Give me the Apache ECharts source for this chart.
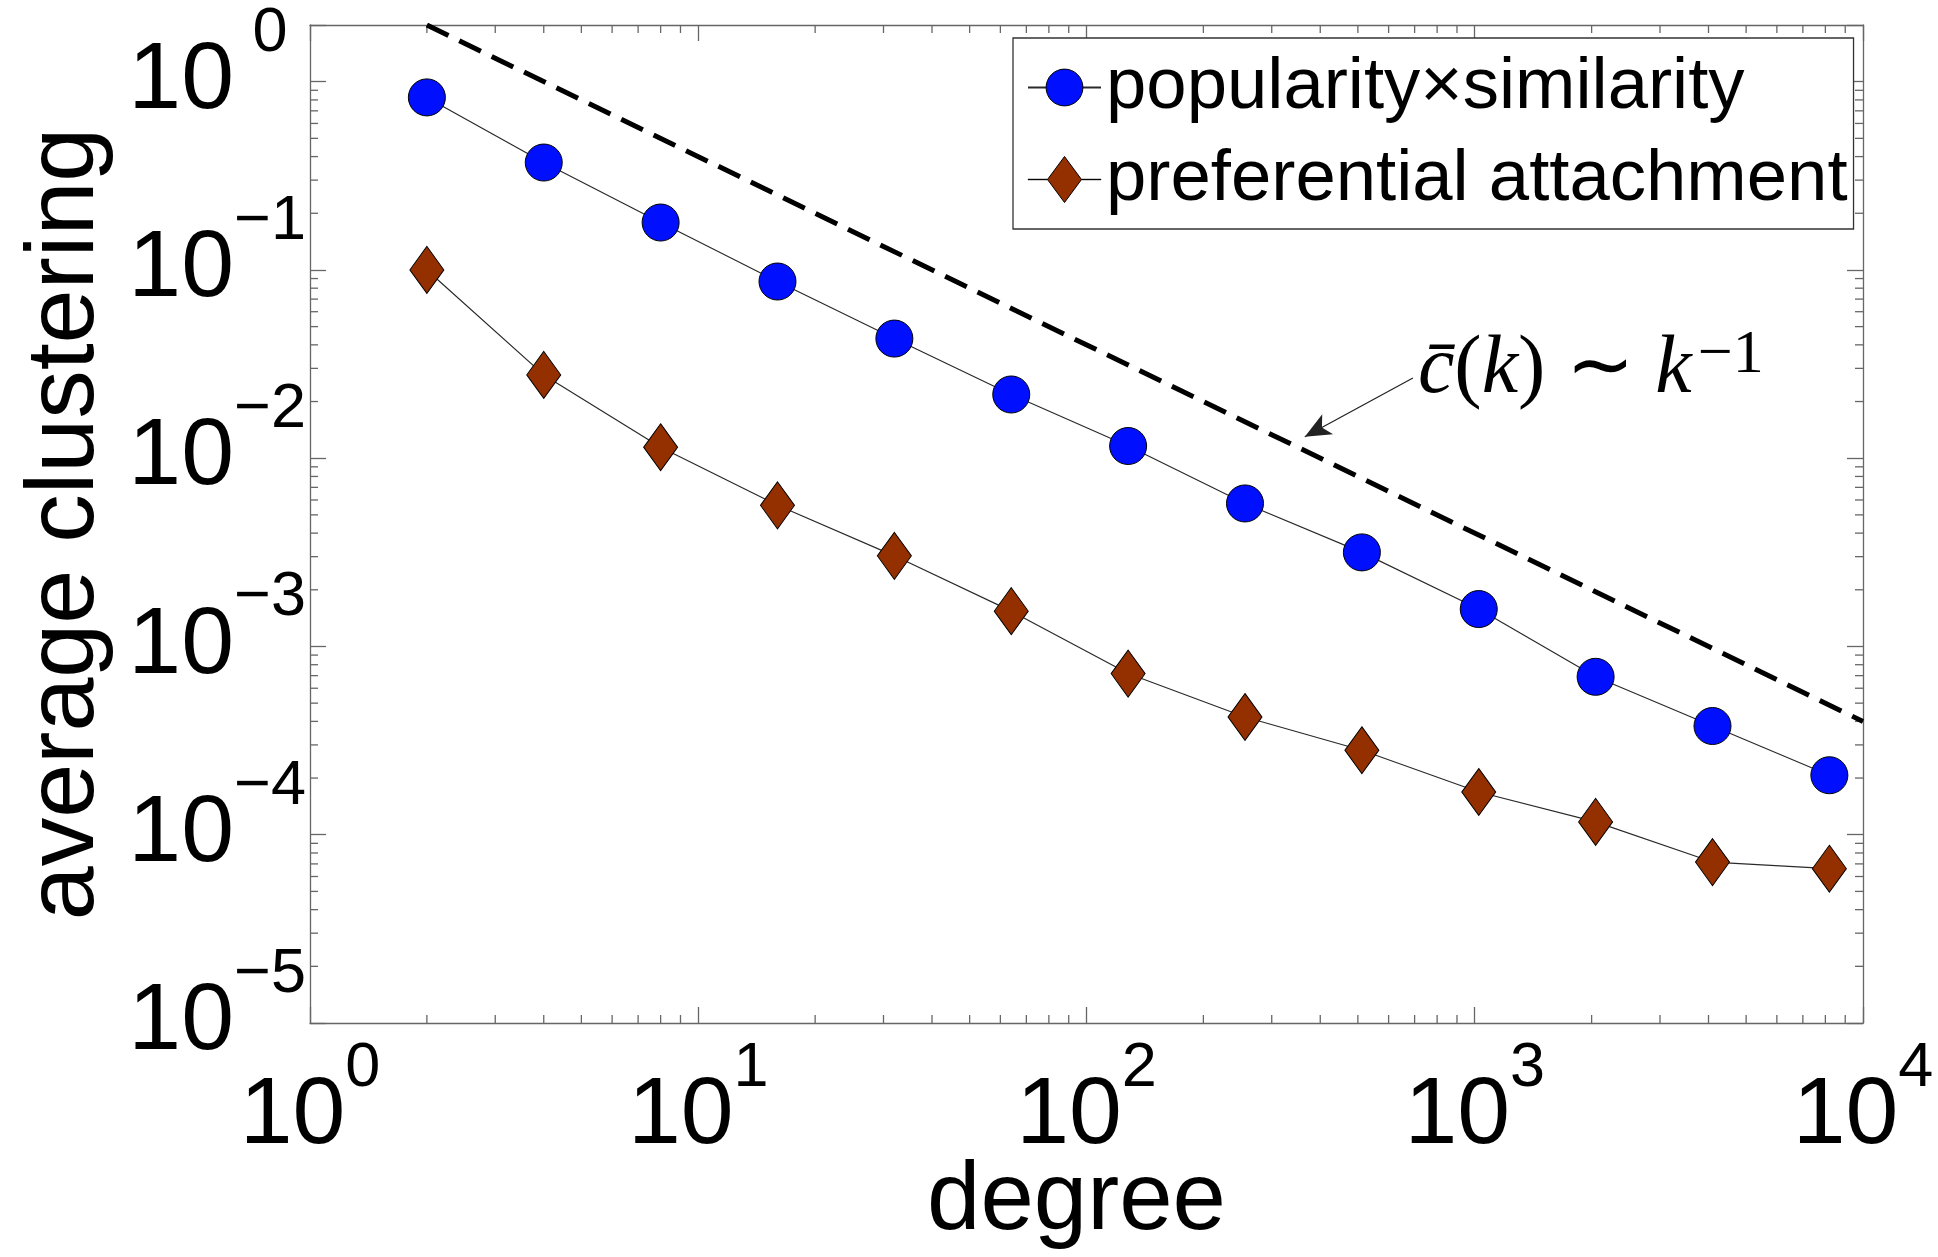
<!DOCTYPE html>
<html>
<head>
<meta charset="utf-8">
<script src="https://cdn.jsdelivr.net/npm/echarts@6/dist/echarts.min.js"></script>
<style>
  html, body { margin: 0; padding: 0; background: #fff; }
  #chart { width: 1938px; height: 1257px; }
</style>
</head>
<body>
<div id="chart"></div>
<script>
// Degree bins (powers of two) and the average clustering measured in each bin
const degree = [2, 4, 8, 16, 32, 64, 128, 256, 512, 1024, 2048, 4096, 8192];
const popularitySimilarity = [0.825, 0.372, 0.1786, 0.0868, 0.0432, 0.0218, 0.01161,
  0.00575, 0.00316, 0.00158, 0.00069, 0.000378, 0.000207];
const preferentialAttachment = [0.100, 0.0277, 0.01143, 0.00562, 0.00303, 0.00154, 0.000718,
  0.000422, 0.000281, 0.0001686, 0.000117, 0.0000716, 0.000066];

// Reference slope c(k) ~ k^-1, given by its two end points
const guideDegree = [2, 10000];
const guideClustering = [2.0, 0.0004];

// Annotation arrow (tail, tip) and text anchor, in data units
const arrowDegree = [693, 365];
const arrowClustering = [0.0267, 0.0130];
const annotationDegree = 714;
const annotationClustering = 0.0291;

// Decade labels on both axes (10^n)
const xTickExponents = [0, 1, 2, 3, 4];
const yTickExponents = [-5, -4, -3, -2, -1, 0];

const seriesNames = ['popularity\u00d7similarity', 'preferential attachment'];

const AXIS_COLOR = '#666';
const MAJOR_TICK = 16;
const MINOR_TICK = 8;
const FONT = 'Liberation Sans, Arial, Helvetica, sans-serif';

// minor ticks at 2..9 x 10^n inside each decade
function minorTicks(fromExp, toExp) {
  const out = [];
  for (let e = fromExp; e < toExp; e++) {
    for (let m = 2; m <= 9; m++) out.push(m * Math.pow(10, e));
  }
  return out;
}
const xMinor = minorTicks(0, 4);
const yMinor = minorTicks(-5, 0);

function exponentOf(v) {
  const l = Math.log10(v);
  const e = Math.round(l);
  return Math.abs(l - e) < 1e-6 ? e : null;
}
function supText(e) {
  return e < 0 ? '\u2212' + (-e) : String(e);
}
function decadeLabel(list) {
  return function (v) {
    const e = exponentOf(v);
    if (e === null || list.indexOf(e) < 0) return '';
    return '{b|10}{e|' + supText(e) + '}';
  };
}

const tickLabelRichX = {
  b: { fontSize: 95, lineHeight: 160, fontFamily: FONT, color: '#000' },
  e: { fontSize: 63, verticalAlign: 'top', fontFamily: FONT, color: '#000' }
};
const tickLabelRichY = {
  b: { fontSize: 95, lineHeight: 160, fontFamily: FONT, color: '#000' },
  e: { fontSize: 63, verticalAlign: 'top', width: 72, align: 'left', fontFamily: FONT, color: '#000' }
};

function logAxis(extra) {
  return Object.assign({
    type: 'log',
    logBase: 10,
    axisLine: { show: true, lineStyle: { color: AXIS_COLOR, width: 1.3 } },
    axisTick: { show: true, inside: true, length: MAJOR_TICK, lineStyle: { color: AXIS_COLOR, width: 1.3 } },
    minorTick: { show: false },
    splitLine: { show: false },
    axisLabel: { show: false }
  }, extra);
}

// legend glyph for the diamond series: line stub, diamond, line stub (73 x 46 box)
const diamondLegendIcon = 'path://M0,22.8L19.5,22.8L19.5,23.2L0,23.2Z' +
  'M36.5,0L53.5,23L36.5,46L19.5,23Z' +
  'M53.5,22.8L73,22.8L73,23.2L53.5,23.2Z';
// plot marker: taller-than-wide diamond
const diamondSymbol = 'path://M17,0L34,24L17,48L0,24Z';

const minorStyle = { stroke: AXIS_COLOR, lineWidth: 1.3 };

const chart = echarts.init(document.getElementById('chart'), null, { renderer: 'canvas' });

const option = {
  animation: false,
  backgroundColor: '#fff',
  grid: {
    left: 310, top: 25, width: 1553, height: 998,
    containLabel: false,
    outerBoundsMode: 'none'
  },
  xAxis: [
    logAxis({
      min: 1, max: 10000, position: 'bottom',
      name: 'degree', nameLocation: 'middle', nameGap: 132, nameMoveOverlap: false,
      nameTextStyle: { fontSize: 96, fontFamily: FONT, color: '#000', padding: [0, 20, 0, 0] },
      axisLabel: {
        show: true, margin: 14, formatter: decadeLabel(xTickExponents),
        rich: tickLabelRichX, showMinLabel: true, showMaxLabel: true, hideOverlap: false
      }
    }),
    logAxis({ min: 1, max: 10000, position: 'top' })
  ],
  yAxis: [
    logAxis({
      min: 0.00001, max: 2, position: 'left',
      name: 'average clustering', nameLocation: 'middle', nameGap: 195, nameMoveOverlap: false,
      nameTextStyle: { fontSize: 97, fontFamily: FONT, color: '#000' },
      axisLabel: {
        show: true, margin: 4, formatter: decadeLabel(yTickExponents),
        rich: tickLabelRichY, showMinLabel: true, showMaxLabel: true, hideOverlap: false
      }
    }),
    logAxis({ min: 0.00001, max: 2, position: 'right' })
  ],
  legend: {
    orient: 'vertical',
    left: 1013, top: 38,
    padding: [13, 6, 13, 14],
    itemWidth: 73, itemHeight: 46, itemGap: 19,
    backgroundColor: '#fff',
    borderColor: '#333', borderWidth: 1.3, borderRadius: 0,
    selectedMode: false,
    itemStyle: { borderWidth: 1 },
    textStyle: { fontSize: 72.5, fontFamily: FONT, color: '#000' },
    data: [
      { name: seriesNames[0] },
      { name: seriesNames[1], icon: diamondLegendIcon }
    ]
  },
  series: [
    {
      name: 'guide',
      type: 'line',
      data: guideDegree.map((k, i) => [k, guideClustering[i]]),
      symbol: 'none',
      lineStyle: { color: '#000', width: 5, type: [24, 12], cap: 'butt' },
      z: 3,
      silent: true,
      markLine: {
        silent: true,
        symbol: ['none', 'arrow'],
        symbolSize: [17, 26],
        label: { show: false },
        lineStyle: { color: '#222', width: 1.2, type: 'solid' },
        data: [[
          { coord: [arrowDegree[0], arrowClustering[0]] },
          { coord: [arrowDegree[1], arrowClustering[1]] }
        ]]
      }
    },
    {
      name: seriesNames[0],
      type: 'line',
      data: degree.map((k, i) => [k, popularitySimilarity[i]]),
      symbol: 'circle',
      symbolSize: 37,
      itemStyle: { color: '#0010ff', borderColor: '#000', borderWidth: 1 },
      lineStyle: { color: '#2a2a2a', width: 1.2 },
      z: 4
    },
    {
      name: seriesNames[1],
      type: 'line',
      data: degree.map((k, i) => [k, preferentialAttachment[i]]),
      symbol: diamondSymbol,
      symbolSize: [34, 47],
      itemStyle: { color: '#943000', borderColor: '#000', borderWidth: 1 },
      lineStyle: { color: '#2a2a2a', width: 1.2 },
      z: 4
    },
    {
      name: 'x minor ticks',
      type: 'custom',
      silent: true,
      clip: false,
      data: xMinor.map(v => [v, 1]),
      renderItem: function (params, api) {
        const cs = params.coordSys;
        const x = api.coord([api.value(0), 1])[0];
        const yb = cs.y + cs.height;
        return {
          type: 'group',
          children: [
            { type: 'line', shape: { x1: x, y1: yb, x2: x, y2: yb - MINOR_TICK }, style: minorStyle },
            { type: 'line', shape: { x1: x, y1: cs.y, x2: x, y2: cs.y + MINOR_TICK }, style: minorStyle }
          ]
        };
      }
    },
    {
      name: 'y minor ticks',
      type: 'custom',
      silent: true,
      clip: false,
      data: yMinor.map(v => [1, v]),
      renderItem: function (params, api) {
        const cs = params.coordSys;
        const y = api.coord([1, api.value(1)])[1];
        const xr = cs.x + cs.width;
        return {
          type: 'group',
          children: [
            { type: 'line', shape: { x1: cs.x, y1: y, x2: cs.x + MINOR_TICK, y2: y }, style: minorStyle },
            { type: 'line', shape: { x1: xr, y1: y, x2: xr - MINOR_TICK, y2: y }, style: minorStyle }
          ]
        };
      }
    }
  ]
};

chart.setOption(option);

// formula annotation next to the arrow tail
const anchor = chart.convertToPixel({ xAxisIndex: 0, yAxisIndex: 0 }, [annotationDegree, annotationClustering]);
const SERIF = 'Liberation Serif, Times New Roman, serif';
chart.setOption({
  graphic: [{
    type: 'text',
    x: anchor[0],
    y: anchor[1],
    silent: true,
    style: {
      text: '{i|c\u0304}{n|(}{i|k}{n|)}{n| \u223c }{i|k}{s|\u22121}',
      align: 'left',
      verticalAlign: 'middle',
      fill: '#000',
      rich: {
        i: { fontSize: 82, lineHeight: 92, fontStyle: 'italic', fontFamily: SERIF, fill: '#000' },
        n: { fontSize: 82, lineHeight: 92, fontFamily: SERIF, fill: '#000' },
        s: { fontSize: 62, verticalAlign: 'top', fontFamily: SERIF, fill: '#000', padding: [0, 0, 0, 6] }
      }
    }
  }]
});
</script>
</body>
</html>
